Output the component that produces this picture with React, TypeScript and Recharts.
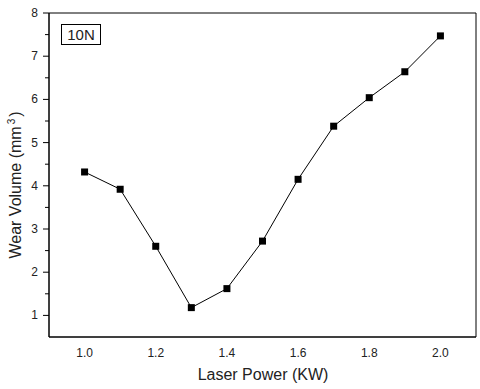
import { LineChart, Line, XAxis, YAxis, ReferenceArea } from 'recharts'

const laserPower = [1.0, 1.1, 1.2, 1.3, 1.4, 1.5, 1.6, 1.7, 1.8, 1.9, 2.0]
const wearVolume = [4.32, 3.92, 2.6, 1.18, 1.62, 2.72, 4.15, 5.38, 6.04, 6.64, 7.47]
const xTicks = [1.0, 1.2, 1.4, 1.6, 1.8, 2.0]
const yTicks = [1, 1.5, 2, 2.5, 3, 3.5, 4, 4.5, 5, 5.5, 6, 6.5, 7, 7.5, 8]
const loadLabel = '10N'

const data = laserPower.map((p, i) => ({ power: p, wear: wearVolume[i] }))

const FONT = 'Liberation Sans, Arial, sans-serif'

function YTick(props: any) {
  const { y, payload } = props
  const v = payload.value
  const major = Number.isInteger(v)
  const axisX = 49
  return (
    <g>
      <line x1={axisX - (major ? 6 : 4)} x2={axisX} y1={y} y2={y} stroke="#000" strokeWidth={1} />
      {major && (
        <text x={38} y={y} dy={4} textAnchor="end" fontSize={12} fontFamily={FONT} fill="#222">
          {v}
        </text>
      )}
    </g>
  )
}

function SquareDot(props: any) {
  const { cx, cy } = props
  if (cx == null || cy == null) return null
  return <rect x={cx - 3.5} y={cy - 3.5} width={7} height={7} fill="#000" />
}

// axis titles placed by hand (the reference has them a bit off-center)
const XTitle = () => (
  <text x={263} y={380} textAnchor="middle" fontSize={16} fontFamily={FONT} fill="#222">
    Laser Power (KW)
  </text>
)

const YTitle = () => (
  <text
    x={21}
    y={185}
    transform="rotate(-90, 21, 185)"
    textAnchor="middle"
    fontSize={16}
    fontFamily={FONT}
    fill="#222"
  >
    Wear Volume (mm
    <tspan fontSize={10} dy={-6} dx={2}>3</tspan>
    <tspan dy={6} dx={2}>)</tspan>
  </text>
)

export default function App() {
  return (
    <div style={{ position: 'absolute', left: 0, top: 0, width: 480, height: 389, background: '#fff' }}>
      <LineChart width={480} height={389} data={data} margin={{ top: 13, right: 4, left: 0, bottom: 0 }}>
        <XAxis
          dataKey="power"
          type="number"
          domain={[0.9, 2.1]}
          ticks={xTicks}
          tickFormatter={(v: number) => v.toFixed(1)}
          tickLine={false}
          axisLine={{ stroke: '#000' }}
          height={52}
          tick={{ fontSize: 12, fontFamily: FONT, fill: '#222', dy: 3 }}
          label={{ content: XTitle }}
        />
        <YAxis
          type="number"
          domain={[0.5, 8]}
          ticks={yTicks}
          interval={0}
          width={49}
          tickLine={false}
          axisLine={{ stroke: '#000' }}
          tick={<YTick />}
          label={{ content: YTitle }}
        />
        <ReferenceArea x1={0.9} x2={2.1} y1={0.5} y2={8} fill="none" stroke="#000" strokeWidth={1} ifOverflow="visible" />
        <Line
          dataKey="wear"
          stroke="#000"
          strokeWidth={1}
          dot={<SquareDot />}
          activeDot={false}
          isAnimationActive={false}
        />
      </LineChart>
      <div
        style={{
          position: 'absolute',
          left: 61,
          top: 24,
          width: 38,
          height: 19,
          border: '1.5px solid #000',
          fontFamily: FONT,
          fontSize: 15,
          color: '#222',
          display: 'flex',
          alignItems: 'center',
          justifyContent: 'center',
        }}
      >
        {loadLabel}
      </div>
    </div>
  )
}
